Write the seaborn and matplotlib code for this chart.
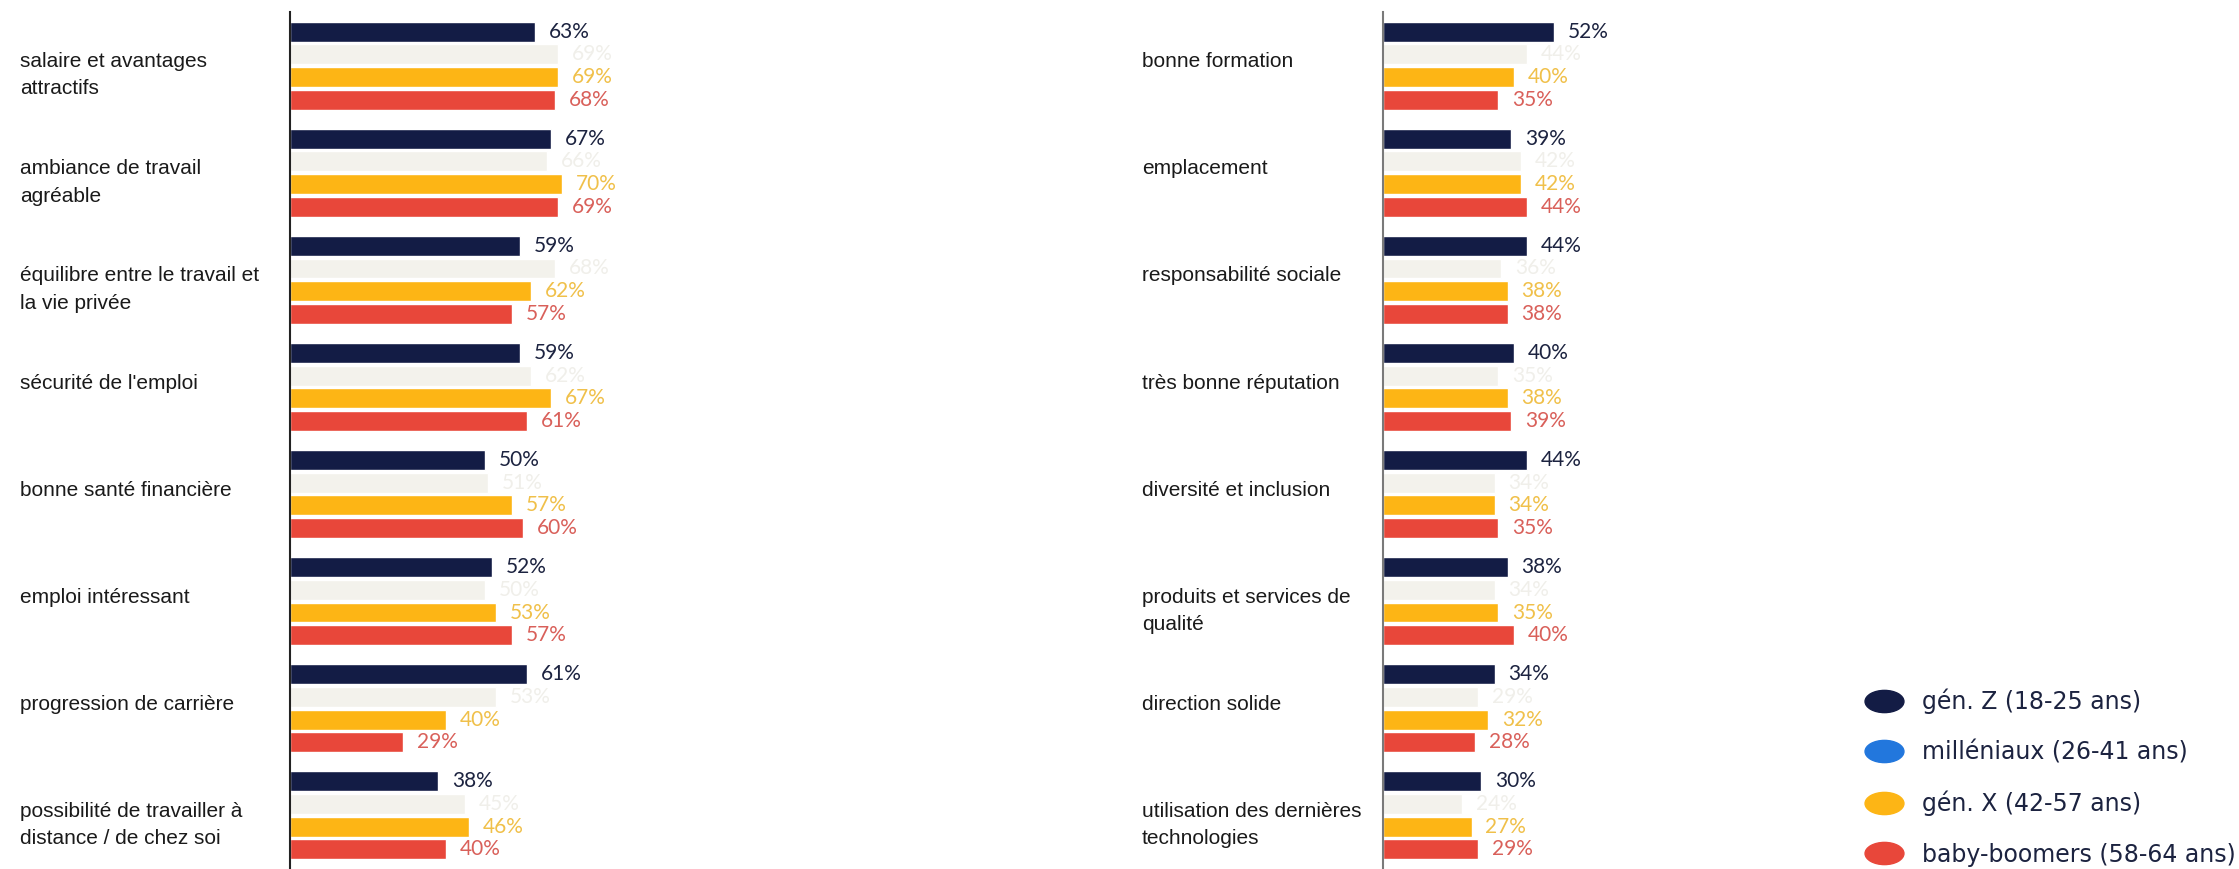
import numpy as np
import pandas as pd
import seaborn as sns
import matplotlib
matplotlib.use("Agg")
import matplotlib.pyplot as plt
from matplotlib.lines import Line2D
from matplotlib.path import Path
from matplotlib.transforms import blended_transform_factory, Affine2D

# --- data -------------------------------------------------------------------
generations = ["gén. Z (18-25 ans)", "milléniaux (26-41 ans)",
               "gén. X (42-57 ans)", "baby-boomers (58-64 ans)"]

criteria_left = [
    "salaire et avantages\nattractifs",
    "ambiance de travail\nagréable",
    "équilibre entre le travail et\nla vie privée",
    "sécurité de l'emploi",
    "bonne santé financière",
    "emploi intéressant",
    "progression de carrière",
    "possibilité de travailler à\ndistance / de chez soi",
]
genz_left = [63, 67, 59, 59, 50, 52, 61, 38]
millennials_left = [69, 66, 68, 62, 51, 50, 53, 45]
genx_left = [69, 70, 62, 67, 57, 53, 40, 46]
boomers_left = [68, 69, 57, 61, 60, 57, 29, 40]

criteria_right = [
    "bonne formation",
    "emplacement",
    "responsabilité sociale",
    "très bonne réputation",
    "diversité et inclusion",
    "produits et services de\nqualité",
    "direction solide",
    "utilisation des dernières\ntechnologies",
]
genz_right = [52, 39, 44, 40, 44, 38, 34, 30]
millennials_right = [44, 42, 36, 35, 34, 34, 29, 24]
genx_right = [40, 42, 38, 38, 34, 35, 32, 27]
boomers_right = [35, 44, 38, 39, 35, 40, 28, 29]

# --- styling ----------------------------------------------------------------
bar_colors = ["#131c45", "#f3f2ec", "#fdb515", "#e8473a"]
value_colors = ["#1c2340", "#f0efea", "#f0c04a", "#d9605a"]
legend_colors = ["#131c45", "#2277dd", "#fdb515", "#e8473a"]

sns.set_style("white")
plt.rcParams["font.family"] = ["Liberation Sans", "DejaVu Sans"]


def long_frame(criteria, series):
    rows = []
    for gen, values in zip(generations, series):
        for crit, v in zip(criteria, values):
            rows.append({"critère": crit, "génération": gen, "valeur": v})
    return pd.DataFrame(rows)


W, H = 2239, 869
fig = plt.figure(figsize=(W / 100, H / 100), dpi=100)

panels = [
    dict(criteria=criteria_left,
         series=[genz_left, millennials_left, genx_left, boomers_left],
         ax_left=290, px_per_pct=3.89, label_x=20, spine="#222222"),
    dict(criteria=criteria_right,
         series=[genz_right, millennials_right, genx_right, boomers_right],
         ax_left=1383, px_per_pct=3.28, label_x=1142, spine="#7a7a7a"),
]

ax_top_px = 12
ax_width_px = 420
for p in panels:
    ax = fig.add_axes([p["ax_left"] / W, 0, ax_width_px / W, (H - ax_top_px) / H])
    df = long_frame(p["criteria"], p["series"])
    sns.barplot(data=df, y="critère", x="valeur", hue="génération",
                hue_order=generations, order=p["criteria"],
                palette=bar_colors, orient="h", width=0.846, gap=0.12,
                saturation=1, legend=False, ax=ax, errorbar=None)
    ax.set_xlim(0, ax_width_px / p["px_per_pct"])
    ax.set_ylim(len(p["criteria"]) - 0.5, -0.5)
    ax.set_xlabel("")
    ax.set_ylabel("")
    ax.set_xticks([])
    ax.set_yticks([])
    for side in ["top", "right", "bottom"]:
        ax.spines[side].set_visible(False)
    ax.spines["left"].set_color(p["spine"])
    ax.spines["left"].set_linewidth(1.5)

    for container, series, col in zip(ax.containers, p["series"], value_colors):
        ax.bar_label(container, labels=[f"{v}%" for v in series], padding=10,
                     color=col, fontsize=15, fontfamily="Lato")

    # category names: first line sits just above the group centre
    trans = blended_transform_factory(fig.transFigure, ax.transData)
    for i, crit in enumerate(p["criteria"]):
        ax.text(p["label_x"] / W, i - 0.125, crit, transform=trans,
                ha="left", va="top", fontsize=15, color="#1a1a1a",
                linespacing=1.55, clip_on=False)

# legend with elliptical markers
ellipse = Path.unit_circle().transformed(Affine2D().scale(1.75, 1.0))
handles = [Line2D([], [], linestyle="", marker=ellipse, markersize=28,
                  markerfacecolor=c, markeredgecolor=c) for c in legend_colors]
leg = fig.legend(handles, generations, loc="center left",
                 bbox_to_anchor=(1839 / W, 1 - 777.5 / H), frameon=False,
                 prop={"family": "DejaVu Sans", "size": 17},
                 labelspacing=1.12, handlelength=2.0, handletextpad=0.61)
for t in leg.get_texts():
    t.set_color("#1c2340")

fig.savefig("out.png", dpi=100, facecolor="white")
